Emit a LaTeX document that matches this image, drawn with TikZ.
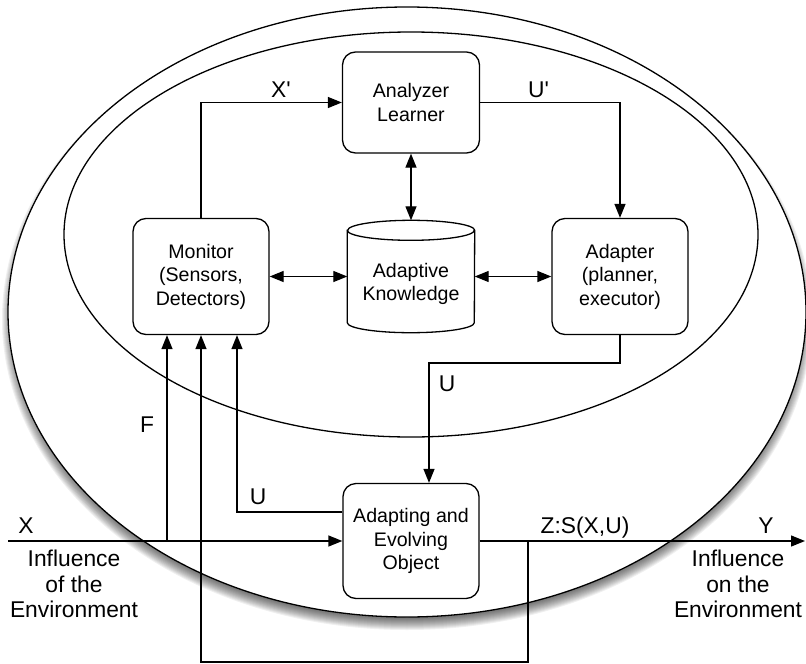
\documentclass[tikz,border=0pt]{standalone}
\usepackage{fontspec}
\setmainfont{Liberation Sans}
\usetikzlibrary{arrows.meta}
\newcommand\bxfont{\fontsize{19.6}{23.5}\selectfont}
\newcommand\lbfont{\fontsize{22.8}{25.5}\selectfont}
\tikzset{
  ln/.style={line width=1.3pt},
  box/.style={draw, ln, rounded corners=13pt, fill=white, minimum width=136pt,
    minimum height=116pt, inner sep=0pt, align=center, font=\bxfont},
  lbl/.style={font=\lbfont, inner sep=0pt, anchor=base},
  envtxt/.style={font=\lbfont, inner sep=0pt, align=center},
  arr/.style={ln, -{Triangle[length=14pt,width=11pt]}},
  darr/.style={ln, {Triangle[length=14pt,width=11pt]}-{Triangle[length=14pt,width=11pt]}}
}
\begin{document}
\begin{tikzpicture}[x=1pt,y=-1pt]
\useasboundingbox (0,0) rectangle (806,664);
\clip (0,0) rectangle (806,664);
% shadow of the outer ellipse
\foreach \k in {-5,...,6} {
  \pgfmathsetmacro\rx{399+\k}
  \pgfmathsetmacro\ry{305+\k}
  \fill[black, opacity=0.06] (407,319) ellipse [x radius=\rx pt, y radius=\ry pt];
}
\draw[ln, fill=white] (407,312) ellipse [x radius=399pt, y radius=305pt];
\draw[ln] (411,234.5) ellipse [x radius=347pt, y radius=202.5pt];

% blocks
\node[box, minimum width=137pt, minimum height=101pt] (ana) at (411,102.5) {Analyzer\\Learner};
\node[box] (mon) at (201,276.5) {Monitor\\(Sensors,\\Detectors)};
\node[box] (adp) at (620,276.5) {Adapter\\(planner,\\executor)};
\node[box, minimum height=115pt] (obj) at (411,541) {Adapting and\\Evolving\\Object};
\node[minimum width=127pt, minimum height=112pt, inner sep=0pt] (kno) at (411,276.5) {};
\draw[ln, fill=white] ([yshift=-10pt]kno.north west) -- ([yshift=10pt]kno.south west)
  arc [start angle=180, end angle=360, x radius=63.5pt, y radius=10pt]
  -- ([yshift=-10pt]kno.north east)
  arc [start angle=0, end angle=180, x radius=63.5pt, y radius=10pt] -- cycle;
\draw[ln] ([yshift=-10pt]kno.north west)
  arc [start angle=180, end angle=360, x radius=63.5pt, y radius=10pt];
\node[font=\bxfont, align=center, inner sep=0pt] (knotext) at (411,284) {Adaptive\\Knowledge};

% helper coordinates
\coordinate (ubend) at (429,363);
\coordinate (xstart) at (8,541);
\coordinate (yend) at (805,541);
\coordinate (fb) at (528,541);
\coordinate (fbot) at (528,662);
\coordinate (fsrc) at (167,541);
\coordinate (ucorner) at (237,512);

% connectors
\draw[arr] (mon.north) |- (ana.west);
\draw[arr] (ana.east) -| (adp.north);
\draw[darr] (ana.south) -- (kno.north);
\draw[darr] (mon.east) -- (kno.west);
\draw[darr] (kno.east) -- (adp.west);
\draw[arr] (adp.south) |- (ubend) -- (ubend |- obj.north);
\draw[arr] (xstart) -- (obj.west);
\draw[arr] (obj.east) -- (yend);
\draw[arr] (fb) -- (fbot) -- (mon.south |- fbot) -- (mon.south);
\draw[arr] (fsrc) -- (fsrc |- mon.south);
\draw[arr] (obj.west |- ucorner) -- (ucorner) -- (ucorner |- mon.south);

% labels
\node[lbl] (lxp) at (281,97) {X\textquotesingle};
\node[lbl] (lup) at (538.5,97) {U\textquotesingle};
\node[lbl] (lu1) at (447,391.5) {U};
\node[lbl] (lf) at (147,432) {F};
\node[lbl] (lu2) at (258,504) {U};
\node[lbl] (lx) at (26,533) {X};
\node[lbl] (lz) at (585,533) {Z:S(X,U)};
\node[lbl] (ly) at (766,533) {Y};
\node[envtxt] (envin) at (74,584) {Influence\\of the\\Environment};
\node[envtxt] (envout) at (738,584) {Influence\\on the\\Environment};
\end{tikzpicture}
\end{document}
